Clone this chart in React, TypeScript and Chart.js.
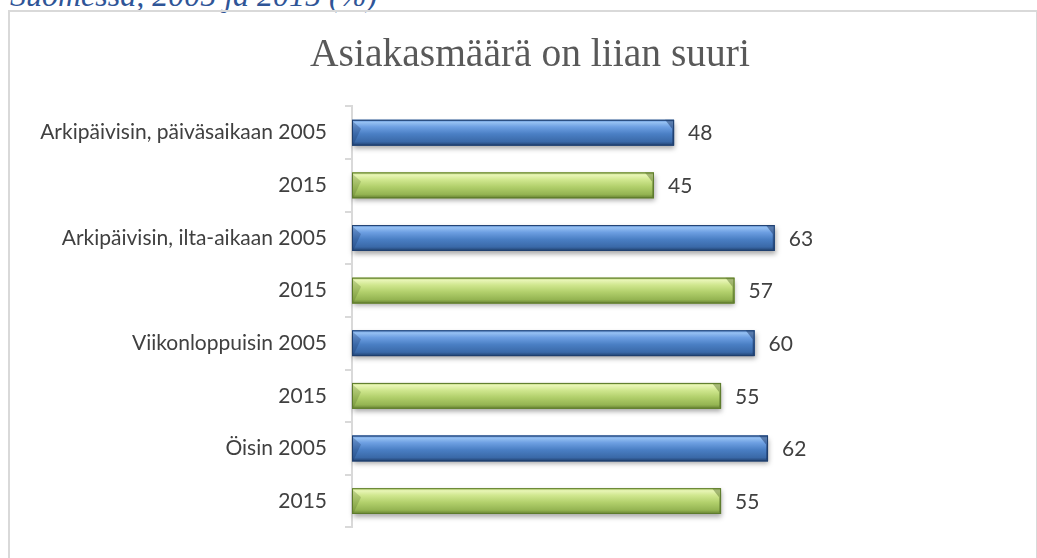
import React, { useEffect, useRef } from "react";
import { Chart, registerables } from "chart.js";

Chart.register(...registerables);

// ---- Data ----
const categories = [
  "Arkipäivisin, päiväsaikaan 2005",
  "2015",
  "Arkipäivisin, ilta-aikaan 2005",
  "2015",
  "Viikonloppuisin 2005",
  "2015",
  "Öisin 2005",
  "2015",
];
const values = [48, 45, 63, 57, 60, 55, 62, 55];
const seriesYear = ["2005", "2015", "2005", "2015", "2005", "2015", "2005", "2015"];
const chartTitle = "Asiakasmäärä on liian suuri";
const headingText = "Suomessa, 2005 ja 2015 (%)";
const xMin = 0;
const xMax = 100;

// ---- Styles ----
const palettes: Record<string, { base: string; border: string; stops: [number, string][]; dark: string }> = {
  "2005": {
    base: "#4a7fc4",
    border: "#1f3f6e",
    stops: [
      [0, "#5d8fd6"],
      [0.1, "#95c0f2"],
      [0.28, "#6d9fe2"],
      [0.55, "#4a7fc4"],
      [0.85, "#3a69a8"],
      [1, "#203f6c"],
    ],
    dark: "rgba(20,45,90,0.45)",
  },
  "2015": {
    base: "#afcf6a",
    border: "#5d7b2c",
    stops: [
      [0, "#b9d472"],
      [0.1, "#e8f5b6"],
      [0.28, "#d0e78f"],
      [0.55, "#b2d06c"],
      [0.85, "#94b452"],
      [1, "#647f31"],
    ],
    dark: "rgba(70,95,30,0.4)",
  },
};

const labelFont = "Lato";
const textColor = "#404040";

const barFx = {
  id: "barFx",
  beforeDatasetsDraw(chart: any) {
    const ctx = chart.ctx;
    const meta = chart.getDatasetMeta(0);
    ctx.save();
    meta.data.forEach((el: any) => {
      const { x, y, base, height } = el.getProps(["x", "y", "base", "height"], true);
      ctx.shadowColor = "rgba(0,0,0,0.35)";
      ctx.shadowBlur = 5;
      ctx.shadowOffsetX = 1;
      ctx.shadowOffsetY = 3;
      ctx.fillStyle = "#888";
      ctx.fillRect(base, y - height / 2, x - base, height);
    });
    ctx.restore();
  },
  afterDatasetsDraw(chart: any) {
    const ctx = chart.ctx;
    const meta = chart.getDatasetMeta(0);
    ctx.save();
    meta.data.forEach((el: any, i: number) => {
      const { x, y, base, height } = el.getProps(["x", "y", "base", "height"], true);
      const p = palettes[seriesYear[i]];
      const top = y - height / 2;
      const bottom = y + height / 2;
      const g = ctx.createLinearGradient(0, top, 0, bottom);
      p.stops.forEach(([o, c]) => g.addColorStop(o, c));
      ctx.fillStyle = g;
      ctx.fillRect(base, top, x - base, height);
      const b = Math.min(9, height * 0.36);
      // right end bevel
      ctx.fillStyle = p.dark;
      ctx.beginPath();
      ctx.moveTo(x - b, top);
      ctx.lineTo(x, top);
      ctx.lineTo(x, bottom);
      ctx.lineTo(x - 2, bottom - 2);
      ctx.lineTo(x - 2, top + b);
      ctx.closePath();
      ctx.fill();
      // left end bevel (subtle)
      ctx.fillStyle = p.dark;
      ctx.globalAlpha = 0.6;
      ctx.beginPath();
      ctx.moveTo(base, top + 1);
      ctx.lineTo(base + b, top + b);
      ctx.lineTo(base + 2, bottom - 2);
      ctx.lineTo(base, bottom);
      ctx.closePath();
      ctx.fill();
      ctx.globalAlpha = 1;
      // outline
      ctx.strokeStyle = p.border;
      ctx.lineWidth = 1;
      ctx.strokeRect(base + 0.5, top + 0.5, x - base - 1, height - 1);
      // value label
      ctx.fillStyle = textColor;
      ctx.font = `21px ${labelFont}`;
      ctx.textAlign = "left";
      ctx.textBaseline = "middle";
      ctx.fillText(String(values[i]), x + 14, y + 1);
    });
    ctx.restore();
  },
};

export default function App() {
  const canvasRef = useRef<HTMLCanvasElement | null>(null);

  useEffect(() => {
    if (!canvasRef.current) return;
    const chart = new Chart(canvasRef.current, {
      type: "bar",
      data: {
        labels: categories,
        datasets: [
          {
            data: values,
            backgroundColor: seriesYear.map((s) => palettes[s].base),
            borderWidth: 0,
            categoryPercentage: 1,
            barPercentage: 0.49,
          },
        ],
      },
      options: {
        indexAxis: "y",
        animation: false,
        responsive: false,
        layout: { padding: { left: 37, right: 14, top: 11, bottom: 25 } },
        plugins: {
          legend: { display: false },
          tooltip: { enabled: false },
          title: {
            display: true,
            text: chartTitle,
            color: "#595959",
            font: { family: "Liberation Serif", size: 39.5, weight: "normal" },
            padding: { top: 21, bottom: 27 },
          },
        },
        scales: {
          x: { display: false, min: xMin, max: xMax },
          y: {
            afterFit(scale: any) {
              scale.width = 315;
            },
            grid: {
              display: true,
              drawOnChartArea: false,
              drawTicks: true,
              tickLength: 7,
              color: "#d9d9d9",
              lineWidth: 2,
              offset: true,
            },
            border: { display: true, color: "#d9d9d9", width: 2 },
            ticks: {
              color: textColor,
              padding: 18,
              font: { family: labelFont, size: 21 },
            },
          },
        },
      },
      plugins: [barFx],
    });
    return () => chart.destroy();
  }, []);

  return (
    <div style={{ position: "fixed", left: 0, top: 0, width: 1037, height: 558, background: "#fff", overflow: "hidden" }}>
      <div
        style={{
          position: "absolute",
          left: 10,
          top: -21,
          fontFamily: "Liberation Serif",
          fontStyle: "italic",
          fontSize: 32,
          lineHeight: "32px",
          color: "#2f5597",
          whiteSpace: "nowrap",
        }}
      >
        {headingText}
      </div>
      <div
        style={{
          position: "absolute",
          left: 8,
          top: 10,
          width: 1026,
          height: 600,
          border: "2px solid #d9d9d9",
        }}
      />
      <canvas ref={canvasRef} width={1037} height={558} style={{ position: "absolute", left: 0, top: 0 }} />
    </div>
  );
}
